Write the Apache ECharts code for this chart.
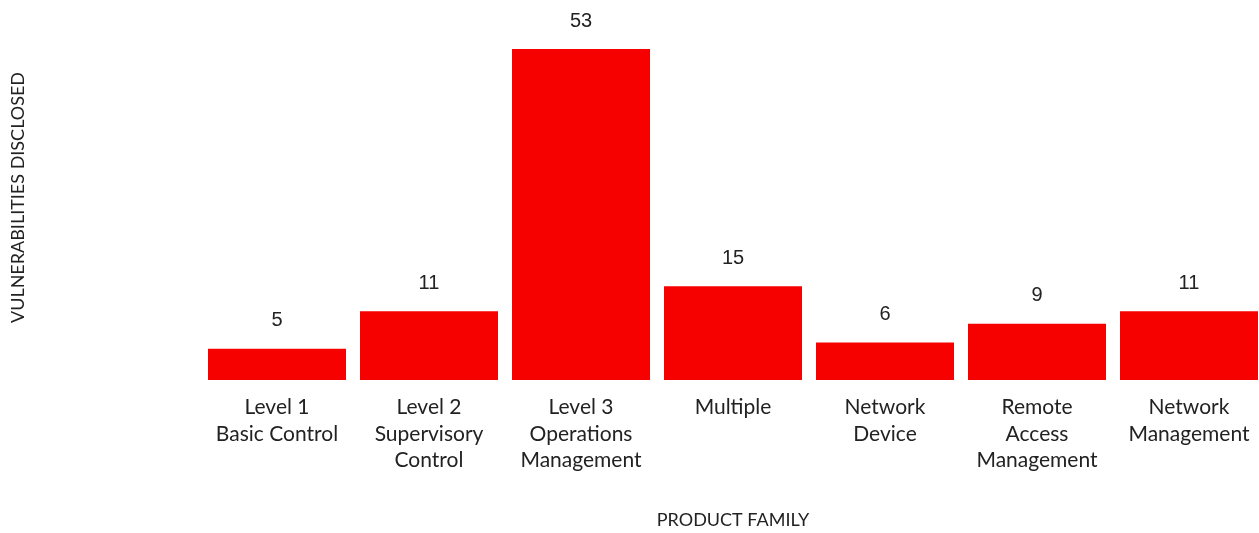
<!DOCTYPE html>
<html>
<head>
<meta charset="utf-8">
<script src="https://cdn.jsdelivr.net/npm/echarts@6/dist/echarts.min.js"></script>
<style>
  html, body { margin: 0; padding: 0; background: #fff; }
  #chart { width: 1259px; height: 533px; }
</style>
</head>
<body>
<div id="chart"></div>
<script>
// product families and disclosed vulnerability counts
const categories = [
  "Level 1\nBasic Control",
  "Level 2\nSupervisory\nControl",
  "Level 3\nOperations\nManagement",
  "Multiple",
  "Network\nDevice",
  "Remote\nAccess\nManagement",
  "Network\nManagement"
];
const counts = [5, 11, 53, 15, 6, 9, 11];

const chart = echarts.init(document.getElementById("chart"));
chart.setOption({
  animation: false,
  grid: { left: 201, top: 49, width: 1064, height: 331, outerBoundsMode: "none", containLabel: false },
  xAxis: {
    type: "category",
    data: categories,
    name: "PRODUCT FAMILY",
    nameLocation: "middle",
    nameGap: 131,
    nameTextStyle: { fontFamily: "Lato", fontSize: 18, color: "#222" },
    axisLine: { show: false },
    axisTick: { show: false },
    axisLabel: {
      interval: 0,
      margin: 14,
      fontFamily: "Lato",
      fontSize: 21,
      lineHeight: 26.5,
      color: "#222"
    }
  },
  yAxis: {
    type: "value",
    min: 0,
    max: 53,
    name: "VULNERABILITIES DISCLOSED",
    nameLocation: "middle",
    nameGap: 174,
    nameTextStyle: { fontFamily: "Lato", fontSize: 18, color: "#222", padding: [0, 0, 0, 34] },
    axisLine: { show: false },
    axisTick: { show: false },
    axisLabel: { show: false },
    splitLine: { show: false }
  },
  series: [
    {
      type: "bar",
      data: counts,
      barCategoryGap: 14,
      itemStyle: { color: "#f60000" },
      label: {
        show: true,
        position: "top",
        distance: 18,
        fontFamily: "Liberation Sans",
        fontSize: 20,
        color: "#222"
      }
    }
  ]
});
</script>
</body>
</html>
